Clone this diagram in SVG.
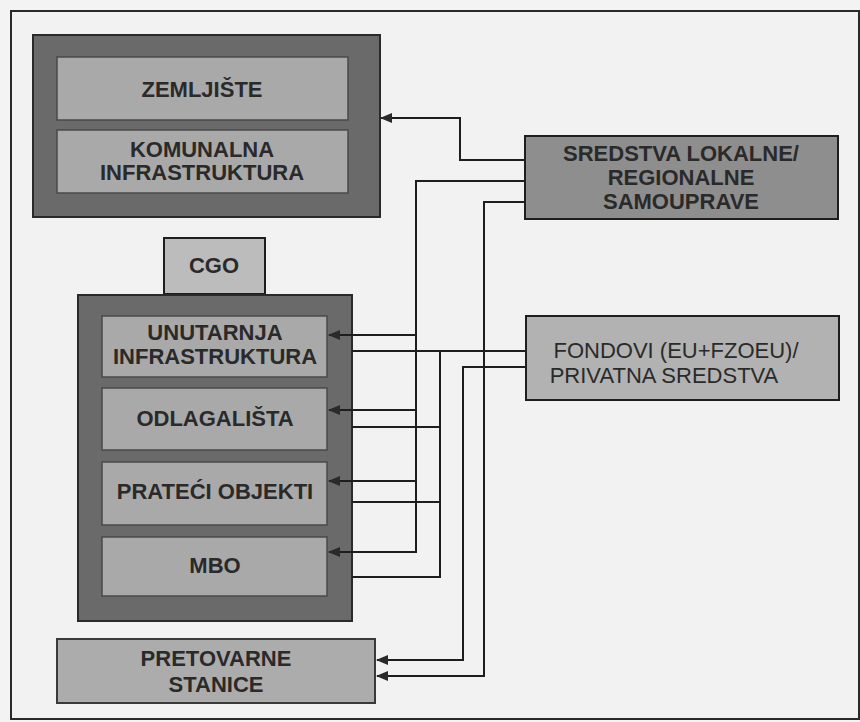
<svg xmlns="http://www.w3.org/2000/svg" width="860" height="722" viewBox="0 0 860 722">
<defs>
<style>
.outer{fill:#6a6a6a;stroke:#2a2a2a;stroke-width:2}
.inner{fill:#a9a9a9;stroke:#4a4a4a;stroke-width:1.5}
.lbl{font-family:"Liberation Sans",Arial,sans-serif;font-size:22px;font-weight:bold;fill:#2a2a2a;text-anchor:middle}
.thin{font-weight:normal}
.con{fill:none;stroke:#1e1e1e;stroke-width:2}
</style>
<marker id="ah" viewBox="0 0 12 10" refX="11" refY="5" markerWidth="12" markerHeight="10" markerUnits="userSpaceOnUse" orient="auto">
<path d="M0,0 L12,5 L0,10 Z" fill="#2a2a2a"/>
</marker>
</defs>
<rect x="0" y="0" width="860" height="722" fill="#f3f3f3"/>
<rect x="11" y="11" width="848" height="708" fill="#f2f2f2" stroke="#2a2a2a" stroke-width="2"/>

<g id="zemljiste-group">
<rect class="outer" x="33" y="35" width="347" height="182"/>
<g id="zemljiste">
<rect class="inner" x="57" y="57" width="291" height="63"/>
<text class="lbl" x="202" y="97">ZEMLJIŠTE</text>
</g>
<g id="komunalna">
<rect class="inner" x="57" y="130" width="291" height="63"/>
<text class="lbl" x="202" y="157">KOMUNALNA</text>
<text class="lbl" x="202" y="180">INFRASTRUKTURA</text>
</g>
</g>

<g id="cgo">
<rect x="164" y="238" width="101" height="56" fill="#bcbcbc" stroke="#1e1e1e" stroke-width="2"/>
<text class="lbl" x="214" y="273">CGO</text>
</g>

<g id="cgo-container">
<rect class="outer" x="78" y="295" width="274" height="326"/>
<g id="unutarnja">
<rect class="inner" x="102" y="316" width="225" height="61"/>
<text class="lbl" x="215" y="340">UNUTARNJA</text>
<text class="lbl" x="215" y="364">INFRASTRUKTURA</text>
</g>
<g id="odlagalista">
<rect class="inner" x="102" y="388" width="225" height="62"/>
<text class="lbl" x="215" y="426">ODLAGALIŠTA</text>
</g>
<g id="prateci">
<rect class="inner" x="102" y="462" width="225" height="63"/>
<text class="lbl" x="215" y="499">PRATEĆI OBJEKTI</text>
</g>
<g id="mbo">
<rect class="inner" x="102" y="537" width="225" height="59"/>
<text class="lbl" x="215" y="573">MBO</text>
</g>
</g>

<g id="pretovarne">
<rect x="57" y="639" width="318" height="64" fill="#acacac" stroke="#3a3a3a" stroke-width="2"/>
<text class="lbl" x="216" y="666">PRETOVARNE</text>
<text class="lbl" x="216" y="692">STANICE</text>
</g>

<g id="sredstva">
<rect x="525" y="136" width="313" height="83" fill="#8e8e8e" stroke="#1e1e1e" stroke-width="2"/>
<text class="lbl" x="681" y="161" font-size="21.5">SREDSTVA LOKALNE/</text>
<text class="lbl" x="681" y="185" font-size="21.5">REGIONALNE</text>
<text class="lbl" x="681" y="209" font-size="21.5">SAMOUPRAVE</text>
</g>

<g id="fondovi">
<rect x="526" y="316" width="313" height="84" fill="#b2b2b2" stroke="#1e1e1e" stroke-width="2"/>
<text class="lbl thin" x="676" y="358">FONDOVI (EU+FZOEU)/</text>
<text class="lbl thin" x="664" y="383">PRIVATNA SREDSTVA</text>
</g>

<g id="connectors">
<path class="con" d="M525,160 H460 V118 H381" marker-end="url(#ah)"/>
<path class="con" d="M525,181 H416 V552 H329" marker-end="url(#ah)"/>
<path class="con" d="M416,335 H329" marker-end="url(#ah)"/>
<path class="con" d="M416,410 H329" marker-end="url(#ah)"/>
<path class="con" d="M416,481 H329" marker-end="url(#ah)"/>
<path class="con" d="M525,202 H484 V676 H377" marker-end="url(#ah)"/>
<path class="con" d="M526,351 H352"/>
<path class="con" d="M440,351 V577 H352"/>
<path class="con" d="M440,427 H352"/>
<path class="con" d="M440,502 H352"/>
<path class="con" d="M526,367 H463 V660 H377" marker-end="url(#ah)"/>
</g>
</svg>
